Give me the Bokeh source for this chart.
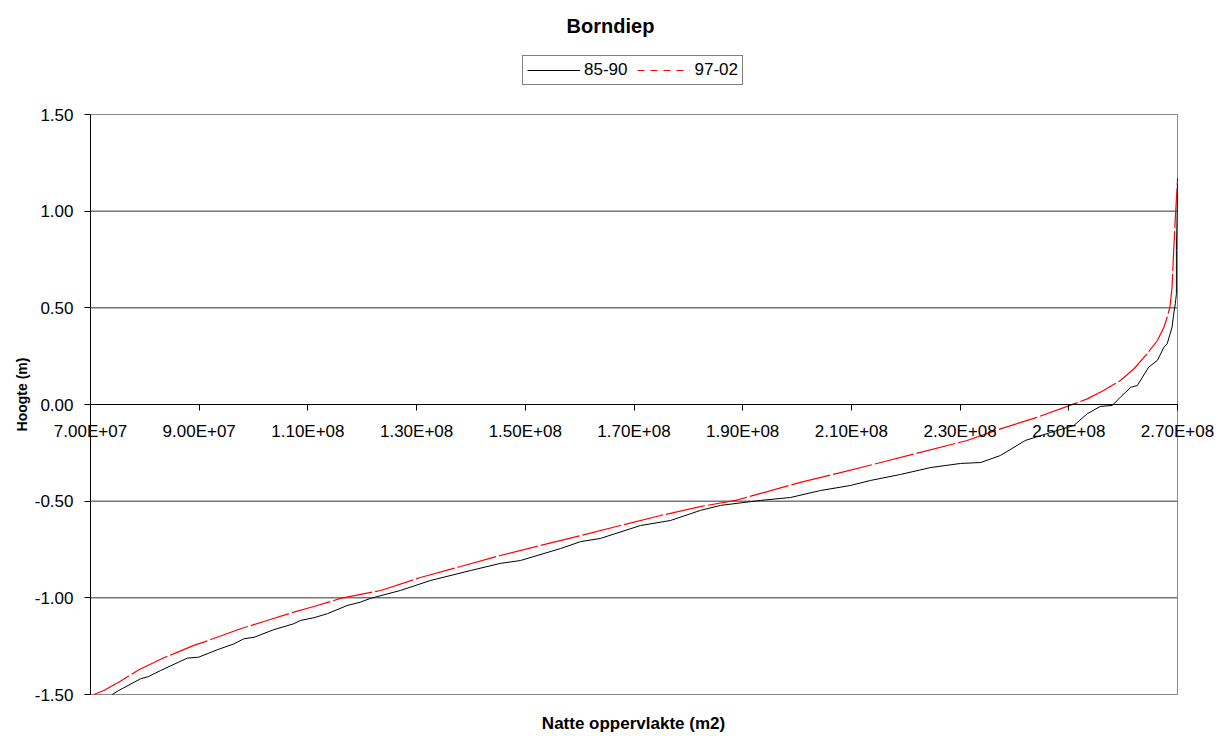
import math
from bokeh.plotting import figure
from bokeh.models import (LinearAxis, FixedTicker, CustomJSTickFormatter, Legend,
                          LegendItem, Range1d, Label)
from bokeh.embed import file_html
from bokeh.resources import INLINE

# ---------------- data ----------------
title_text = "Borndiep"
x_label = "Natte oppervlakte (m2)"
y_label = "Hoogte (m)"
series_names = ["85-90", "97-02"]

# wetted area in millions of m2, height in m
area_8590_mln = [74.0, 75.2, 79.2, 80.7, 82.9, 87.8, 89.9, 93.3, 96.4, 98.2, 100.1,
                 103.7, 107.4, 108.6, 111.1, 113.6, 117.2, 119.7, 121.5, 127.0, 132.6,
                 139.9, 145.4, 149.1, 156.5, 160.2, 163.8, 171.2, 176.7, 182.2, 185.9,
                 193.3, 198.8, 204.3, 209.8, 213.5, 219.0, 224.6, 230.1, 233.8, 237.4,
                 242.0, 246.6, 250.9, 253.4, 255.8, 258.0, 259.5, 261.4, 262.6, 264.7,
                 266.3, 267.5, 268.1, 269.0, 269.3, 269.6, 269.8, 269.8, 269.95, 270.0]
height_8590 = [-1.50, -1.479, -1.419, -1.407, -1.376, -1.312, -1.307, -1.269, -1.238,
               -1.212, -1.204, -1.165, -1.134, -1.117, -1.103, -1.082, -1.040, -1.022,
               -1.003, -0.962, -0.910, -0.859, -0.822, -0.807, -0.745, -0.709, -0.693,
               -0.626, -0.600, -0.548, -0.522, -0.496, -0.481, -0.445, -0.419, -0.393,
               -0.362, -0.326, -0.305, -0.300, -0.264, -0.186, -0.145, -0.109, -0.048,
               -0.010, -0.005, 0.038, 0.089, 0.098, 0.193, 0.228, 0.296, 0.314, 0.400,
               0.469, 0.521, 0.573, 0.797, 1.003, 1.169]

area_9702_mln = [70.6, 72.45, 75.5, 78.9, 83.5, 85.6, 89.0, 90.85, 97.6, 102.5, 107.4,
                 111.1, 114.2, 116.0, 123.4, 130.7, 138.1, 145.4, 152.8, 160.2, 167.5,
                 174.9, 182.2, 188.7, 193.3, 200.6, 208.0, 215.4, 222.7, 231.3, 237.4,
                 244.2, 249.7, 253.4, 256.4, 259.5, 262.0, 264.4, 266.3, 267.5, 268.1,
                 268.6, 269.0, 269.3, 269.6, 270.0]
height_9702 = [-1.50, -1.479, -1.431, -1.372, -1.310, -1.286, -1.246, -1.229, -1.160,
               -1.117, -1.074, -1.045, -1.019, -1.003, -0.962, -0.895, -0.838, -0.781,
               -0.729, -0.678, -0.626, -0.574, -0.528, -0.496, -0.460, -0.403, -0.352,
               -0.300, -0.248, -0.186, -0.126, -0.066, -0.010, 0.029, 0.072, 0.124,
               0.185, 0.262, 0.331, 0.400, 0.451, 0.503, 0.607, 0.796, 0.968, 1.158]

x_ticks = [7.0e7, 9.0e7, 1.1e8, 1.3e8, 1.5e8, 1.7e8, 1.9e8, 2.1e8, 2.3e8, 2.5e8, 2.7e8]
y_ticks = [-1.5, -1.0, -0.5, 0.0, 0.5, 1.0, 1.5]
y_grid_ticks = [-1.0, -0.5, 0.5, 1.0]

area_8590 = [v * 1e6 for v in area_8590_mln]
area_9702 = [v * 1e6 for v in area_9702_mln]

# ---------------- layout helpers (canvas pixels -> data units) ----------------
W, H = 1222, 732
PLOT_L, PLOT_R, PLOT_T, PLOT_B = 90, 1177, 114, 694
X_MIN, X_MAX = x_ticks[0], x_ticks[-1]
Y_MIN, Y_MAX = y_ticks[0], y_ticks[-1]


def xd(px):
    return X_MIN + (px - PLOT_L) * (X_MAX - X_MIN) / (PLOT_R - PLOT_L)


def yd(py):
    return Y_MAX - (py - PLOT_T) * (Y_MAX - Y_MIN) / (PLOT_B - PLOT_T)


FONT = "Liberation Sans"

p = figure(width=W, height=H,
           x_range=Range1d(xd(0), xd(W)), y_range=Range1d(yd(H), yd(0)),
           output_backend="svg", toolbar_location=None,
           x_axis_location=None, y_axis_location=None,
           title_location=None,
           min_border_left=0, min_border_right=0,
           min_border_top=0, min_border_bottom=0)
p.background_fill_color = "white"
p.border_fill_color = "white"
p.outline_line_color = None
for g in p.grid:
    g.visible = False

# horizontal gridlines
p.segment(x0=[X_MIN] * len(y_grid_ticks), x1=[X_MAX] * len(y_grid_ticks),
          y0=y_grid_ticks, y1=y_grid_ticks, line_color="#333333", line_width=1)
# plot-area border (top, right, bottom)
p.segment(x0=[X_MIN, X_MAX, X_MIN], x1=[X_MAX, X_MAX, X_MAX],
          y0=[Y_MAX, Y_MIN, Y_MIN], y1=[Y_MAX, Y_MAX, Y_MIN],
          line_color="#8a8a8a", line_width=1)

# data lines
r1 = p.line(area_8590, height_8590, line_color="black", line_width=1)
r2 = p.line(area_9702, height_9702, line_color="red", line_width=1.2,
            line_dash="40 3")
# single-point copy of the red series: invisible in the plot, gives the legend its dashes
proxy = p.line(area_9702[:1], height_9702[:1], line_color="red", line_width=1.2,
               line_dash="7 6")

# y axis at the left edge of the plot area
ya = LinearAxis(fixed_location=X_MIN, bounds=(Y_MIN, Y_MAX),
                ticker=FixedTicker(ticks=y_ticks),
                formatter=CustomJSTickFormatter(code="return tick.toFixed(2);"),
                major_label_text_font=FONT, major_label_text_font_size="17px",
                major_label_text_color="black",
                major_tick_out=6, major_tick_in=0, minor_tick_out=0, minor_tick_in=0,
                major_label_standoff=11,
                axis_line_color="black", major_tick_line_color="black")
p.add_layout(ya, "left")

# x axis crossing at y = 0
xa = LinearAxis(fixed_location=0.0, bounds=(X_MIN, X_MAX),
                ticker=FixedTicker(ticks=x_ticks),
                formatter=CustomJSTickFormatter(code="""
const s = tick.toExponential(2).toUpperCase();
return s.replace(/E([+-])(\\d)$/, (m, a, b) => 'E' + a + '0' + b);
"""),
                major_label_text_font=FONT, major_label_text_font_size="17px",
                major_label_text_color="black",
                major_tick_out=6, major_tick_in=0, minor_tick_out=0, minor_tick_in=0,
                major_label_standoff=11,
                axis_line_color="black", major_tick_line_color="black")
p.add_layout(xa, "below")

# texts
p.add_layout(Label(x=xd(610), y=yd(25), text=title_text, text_font=FONT,
                   text_font_size="20px", text_font_style="bold",
                   text_align="center", text_baseline="alphabetic",
                   text_color="black"))
p.add_layout(Label(x=xd(633), y=yd(723), text=x_label, text_font=FONT,
                   text_font_size="17px", text_font_style="bold",
                   text_align="center", text_baseline="alphabetic",
                   text_color="black"))
p.add_layout(Label(x=xd(21), y=yd(394), text=y_label, text_font=FONT,
                   text_font_size="14px", text_font_style="bold",
                   text_align="center", text_baseline="alphabetic",
                   angle=math.pi / 2, text_color="black"))

legend = Legend(items=[LegendItem(label=series_names[0], renderers=[r1]),
                       LegendItem(label=series_names[1], renderers=[proxy])],
                orientation="horizontal", location=(522, H - 85),
                border_line_color="black", border_line_width=1,
                background_fill_color="white", background_fill_alpha=1,
                label_text_font=FONT, label_text_font_size="17px",
                label_text_color="black",
                glyph_width=53, glyph_height=18, label_standoff=4,
                spacing=10, padding=4, margin=0)
p.add_layout(legend, "center")

open("out.html", "w").write(file_html(p, INLINE))
